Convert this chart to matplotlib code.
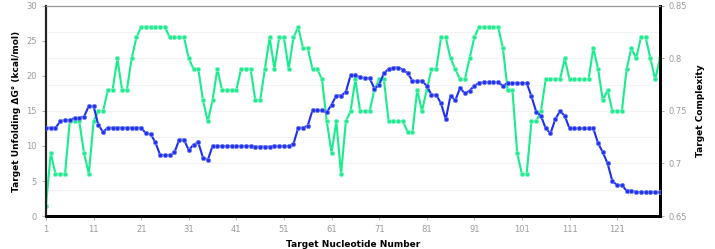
"""
two-axis line chart: target unfolding dG (left) and target complexity (right) per nucleotide
"""

import numpy as np
import matplotlib
matplotlib.use("Agg")
import matplotlib.pyplot as plt
from matplotlib.ticker import MultipleLocator

nucleotide = np.arange(1, 131)

unfolding_dg = [
    12.6, 12.6, 12.6, 13.5, 13.7, 13.7, 14.0, 14.0, 14.2, 15.7,
    15.7, 13.0, 12.0, 12.6, 12.6, 12.6, 12.6, 12.6, 12.6, 12.6,
    12.6, 11.8, 11.7, 10.5, 8.7, 8.7, 8.7, 9.1, 10.9, 10.9,
    9.4, 10.2, 10.5, 8.3, 8.0, 10.0, 10.0, 10.0, 10.0, 10.0,
    10.0, 10.0, 10.0, 10.0, 9.9, 9.9, 9.9, 9.9, 10.0, 10.0,
    10.0, 10.0, 10.3, 12.6, 12.6, 12.9, 15.1, 15.1, 15.1, 14.8,
    15.9, 17.2, 17.2, 17.7, 20.1, 20.1, 19.8, 19.7, 19.7, 18.2,
    18.7, 20.4, 21.0, 21.2, 21.2, 20.9, 20.4, 19.3, 19.3, 19.3,
    18.6, 17.3, 17.3, 16.1, 13.8, 17.2, 16.5, 18.3, 17.5, 17.9,
    18.6, 19.0, 19.1, 19.1, 19.1, 19.1, 18.6, 19.0, 19.0, 19.0,
    19.0, 19.0, 17.1, 14.9, 14.3, 12.5, 11.8, 13.8, 15.0, 14.3,
    12.5, 12.5, 12.5, 12.5, 12.5, 12.5, 10.4, 9.1, 7.5, 5.0,
    4.4, 4.4, 3.6, 3.6, 3.4, 3.4, 3.4, 3.4, 3.4, 3.4,
]

complexity = [
    0.66, 0.71, 0.69, 0.69, 0.69, 0.74, 0.74, 0.74, 0.71, 0.69,
    0.74, 0.75, 0.75, 0.77, 0.77, 0.80, 0.77, 0.77, 0.80, 0.82,
    0.83, 0.83, 0.83, 0.83, 0.83, 0.83, 0.82, 0.82, 0.82, 0.82,
    0.80, 0.79, 0.79, 0.76, 0.74, 0.76, 0.79, 0.77, 0.77, 0.77,
    0.77, 0.79, 0.79, 0.79, 0.76, 0.76, 0.79, 0.82, 0.79, 0.82,
    0.82, 0.79, 0.82, 0.83, 0.81, 0.81, 0.79, 0.79, 0.78, 0.74,
    0.71, 0.74, 0.69, 0.74, 0.75, 0.78, 0.75, 0.75, 0.75, 0.77,
    0.78, 0.78, 0.74, 0.74, 0.74, 0.74, 0.73, 0.73, 0.77, 0.75,
    0.77, 0.79, 0.79, 0.82, 0.82, 0.80, 0.79, 0.78, 0.78, 0.80,
    0.82, 0.83, 0.83, 0.83, 0.83, 0.83, 0.81, 0.77, 0.77, 0.71,
    0.69, 0.69, 0.74, 0.74, 0.75, 0.78, 0.78, 0.78, 0.78, 0.80,
    0.78, 0.78, 0.78, 0.78, 0.78, 0.81, 0.79, 0.76, 0.77, 0.75,
    0.75, 0.75, 0.79, 0.81, 0.80, 0.82, 0.82, 0.80, 0.78, 0.80,
]

x_ticks = [1, 11, 21, 31, 41, 51, 61, 71, 81, 91, 101, 111, 121]

BLUE = "#1f2ff0"
GREEN = "#19ec8c"
TICK_GRAY = "#9a9a9a"

plt.rcParams["font.family"] = ["DejaVu Sans"]

fig = plt.figure(figsize=(7.15, 2.49), dpi=100)
ax = fig.add_axes([0.0643, 0.1325, 0.8587, 0.8435])
ax2 = ax.twinx()

# faint horizontal grid, drawn on the right axis scale
ax2.yaxis.set_minor_locator(MultipleLocator(0.025))
ax2.grid(True, which="both", axis="y", color="#f3f3f3", linewidth=0.8)
ax2.set_axisbelow(True)

ax.plot(nucleotide, unfolding_dg, color=BLUE, linewidth=1.5, marker="o",
        markersize=3, markeredgewidth=0.6, markeredgecolor="#6f7cf6", zorder=3)
ax2.plot(nucleotide, complexity, color=GREEN, linewidth=1.5, marker="o",
         markersize=3, markeredgewidth=0.6, markeredgecolor="#7ef3bd", zorder=3)

ax.set_zorder(ax2.get_zorder() + 1)
ax.patch.set_visible(False)

ax.set_xlim(1, 130)
ax.set_ylim(0, 30)
ax2.set_ylim(0.65, 0.85)
ax.set_xticks(x_ticks)
ax.set_yticks(np.arange(0, 31, 5))
ax2.set_yticks([0.65, 0.7, 0.75, 0.8, 0.85])
ax2.set_yticklabels(["0.65", "0.7", "0.75", "0.8", "0.85"])
ax2.tick_params(axis="y", which="minor", length=0)

for a in (ax, ax2):
    a.tick_params(axis="both", labelsize=6, colors=TICK_GRAY, length=3, width=0.6)

ax.set_xlabel("Target Nucleotide Number", fontsize=6.5, fontweight="bold", labelpad=4)
ax.set_ylabel("Target Unfolding \u0394G\u00b0 (kcal/mol)", fontsize=6.5, fontweight="bold", labelpad=4)
ax2.set_ylabel("Target Complexity", fontsize=6.5, fontweight="bold", labelpad=6)

for a in (ax, ax2):
    a.spines["top"].set_color("#999999")
    a.spines["top"].set_linewidth(0.8)
    a.spines["bottom"].set_color("black")
    a.spines["bottom"].set_linewidth(2)
    a.spines["right"].set_color("black")
    a.spines["right"].set_linewidth(2)
    a.spines["left"].set_color("#222222")
    a.spines["left"].set_linewidth(1.5)

fig.savefig("out.png", dpi=100)
